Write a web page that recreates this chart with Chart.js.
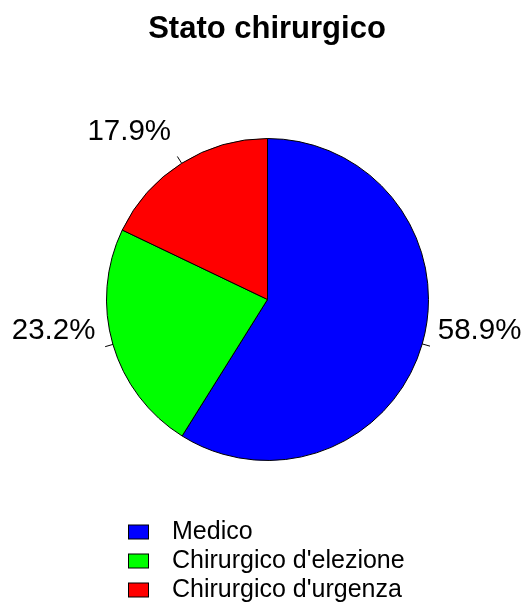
<!DOCTYPE html>
<html>
<head>
<meta charset="utf-8">
<script src="https://cdn.jsdelivr.net/npm/chart.js@4"></script>
<style>
  html, body { margin: 0; padding: 0; background: #fff; }
  canvas { display: block; }
</style>
</head>
<body>
<canvas id="myChart" width="531" height="605"></canvas>
<script>
var titolo = 'Stato chirurgico';
var categorie = ['Medico', "Chirurgico d'elezione", "Chirurgico d'urgenza"];
var percentuali = [58.9, 23.2, 17.9];
var colori = ['#0000ff', '#00ff00', '#ff0000'];
var etichette = percentuali.map(function (p) { return p.toFixed(1) + '%'; });

var FONT = '"Liberation Sans", Arial, sans-serif';

// titolo, etichette esterne con tacca e legenda verticale (stile R)
var disegnaExtra = {
    id: 'disegnaExtra',
    afterDraw: function (chart) {
        var ctx = chart.ctx;
        ctx.save();
        ctx.fillStyle = '#000';

        // titolo
        ctx.font = 'bold 31px ' + FONT;
        ctx.textAlign = 'center';
        ctx.textBaseline = 'alphabetic';
        ctx.fillText(titolo, 267, 38);

        // etichette delle fette
        var meta = chart.getDatasetMeta(0);
        ctx.font = '29.5px ' + FONT;
        ctx.textBaseline = 'middle';
        ctx.strokeStyle = '#000';
        ctx.lineWidth = 1;
        meta.data.forEach(function (arc, i) {
            var p = arc.getProps(['x', 'y', 'startAngle', 'endAngle', 'outerRadius'], true);
            var mid = (p.startAngle + p.endAngle) / 2;
            var c = Math.cos(mid), s = Math.sin(mid);
            var r = p.outerRadius;
            ctx.beginPath();
            ctx.moveTo(p.x + c * r, p.y + s * r);
            ctx.lineTo(p.x + c * r * 1.05, p.y + s * r * 1.05);
            ctx.stroke();
            ctx.textAlign = c < 0 ? 'right' : 'left';
            var dx = c < 0 ? -2 : 0;
            ctx.fillText(etichette[i], p.x + c * r * 1.1 + dx, p.y + s * r * 1.1 - 18);
        });

        // legenda
        ctx.font = '25px ' + FONT;
        ctx.textAlign = 'left';
        ctx.textBaseline = 'middle';
        var ds = chart.data.datasets[0];
        chart.data.labels.forEach(function (lab, i) {
            var y = 532 + i * 29;
            ctx.fillStyle = ds.backgroundColor[i];
            ctx.fillRect(128.5, y - 7, 20, 14);
            ctx.strokeRect(128.5, y - 7, 20, 14);
            ctx.fillStyle = '#000';
            ctx.fillText(lab, 172, y);
        });
        ctx.restore();
    }
};

var ctx = document.getElementById('myChart').getContext('2d');
var myChart = new Chart(ctx, {
    type: 'pie',
    data: {
        labels: categorie,
        datasets: [{
            data: percentuali,
            backgroundColor: colori,
            borderColor: '#000',
            borderWidth: 1,
            hoverOffset: 0,
            offset: 0
        }]
    },
    options: {
        responsive: false,
        animation: false,
        layout: { padding: { left: 106, right: 102, top: 138, bottom: 144 } },
        plugins: {
            legend: { display: false },
            title: { display: false },
            tooltip: { enabled: false }
        }
    },
    plugins: [disegnaExtra]
});
</script>
</body>
</html>
